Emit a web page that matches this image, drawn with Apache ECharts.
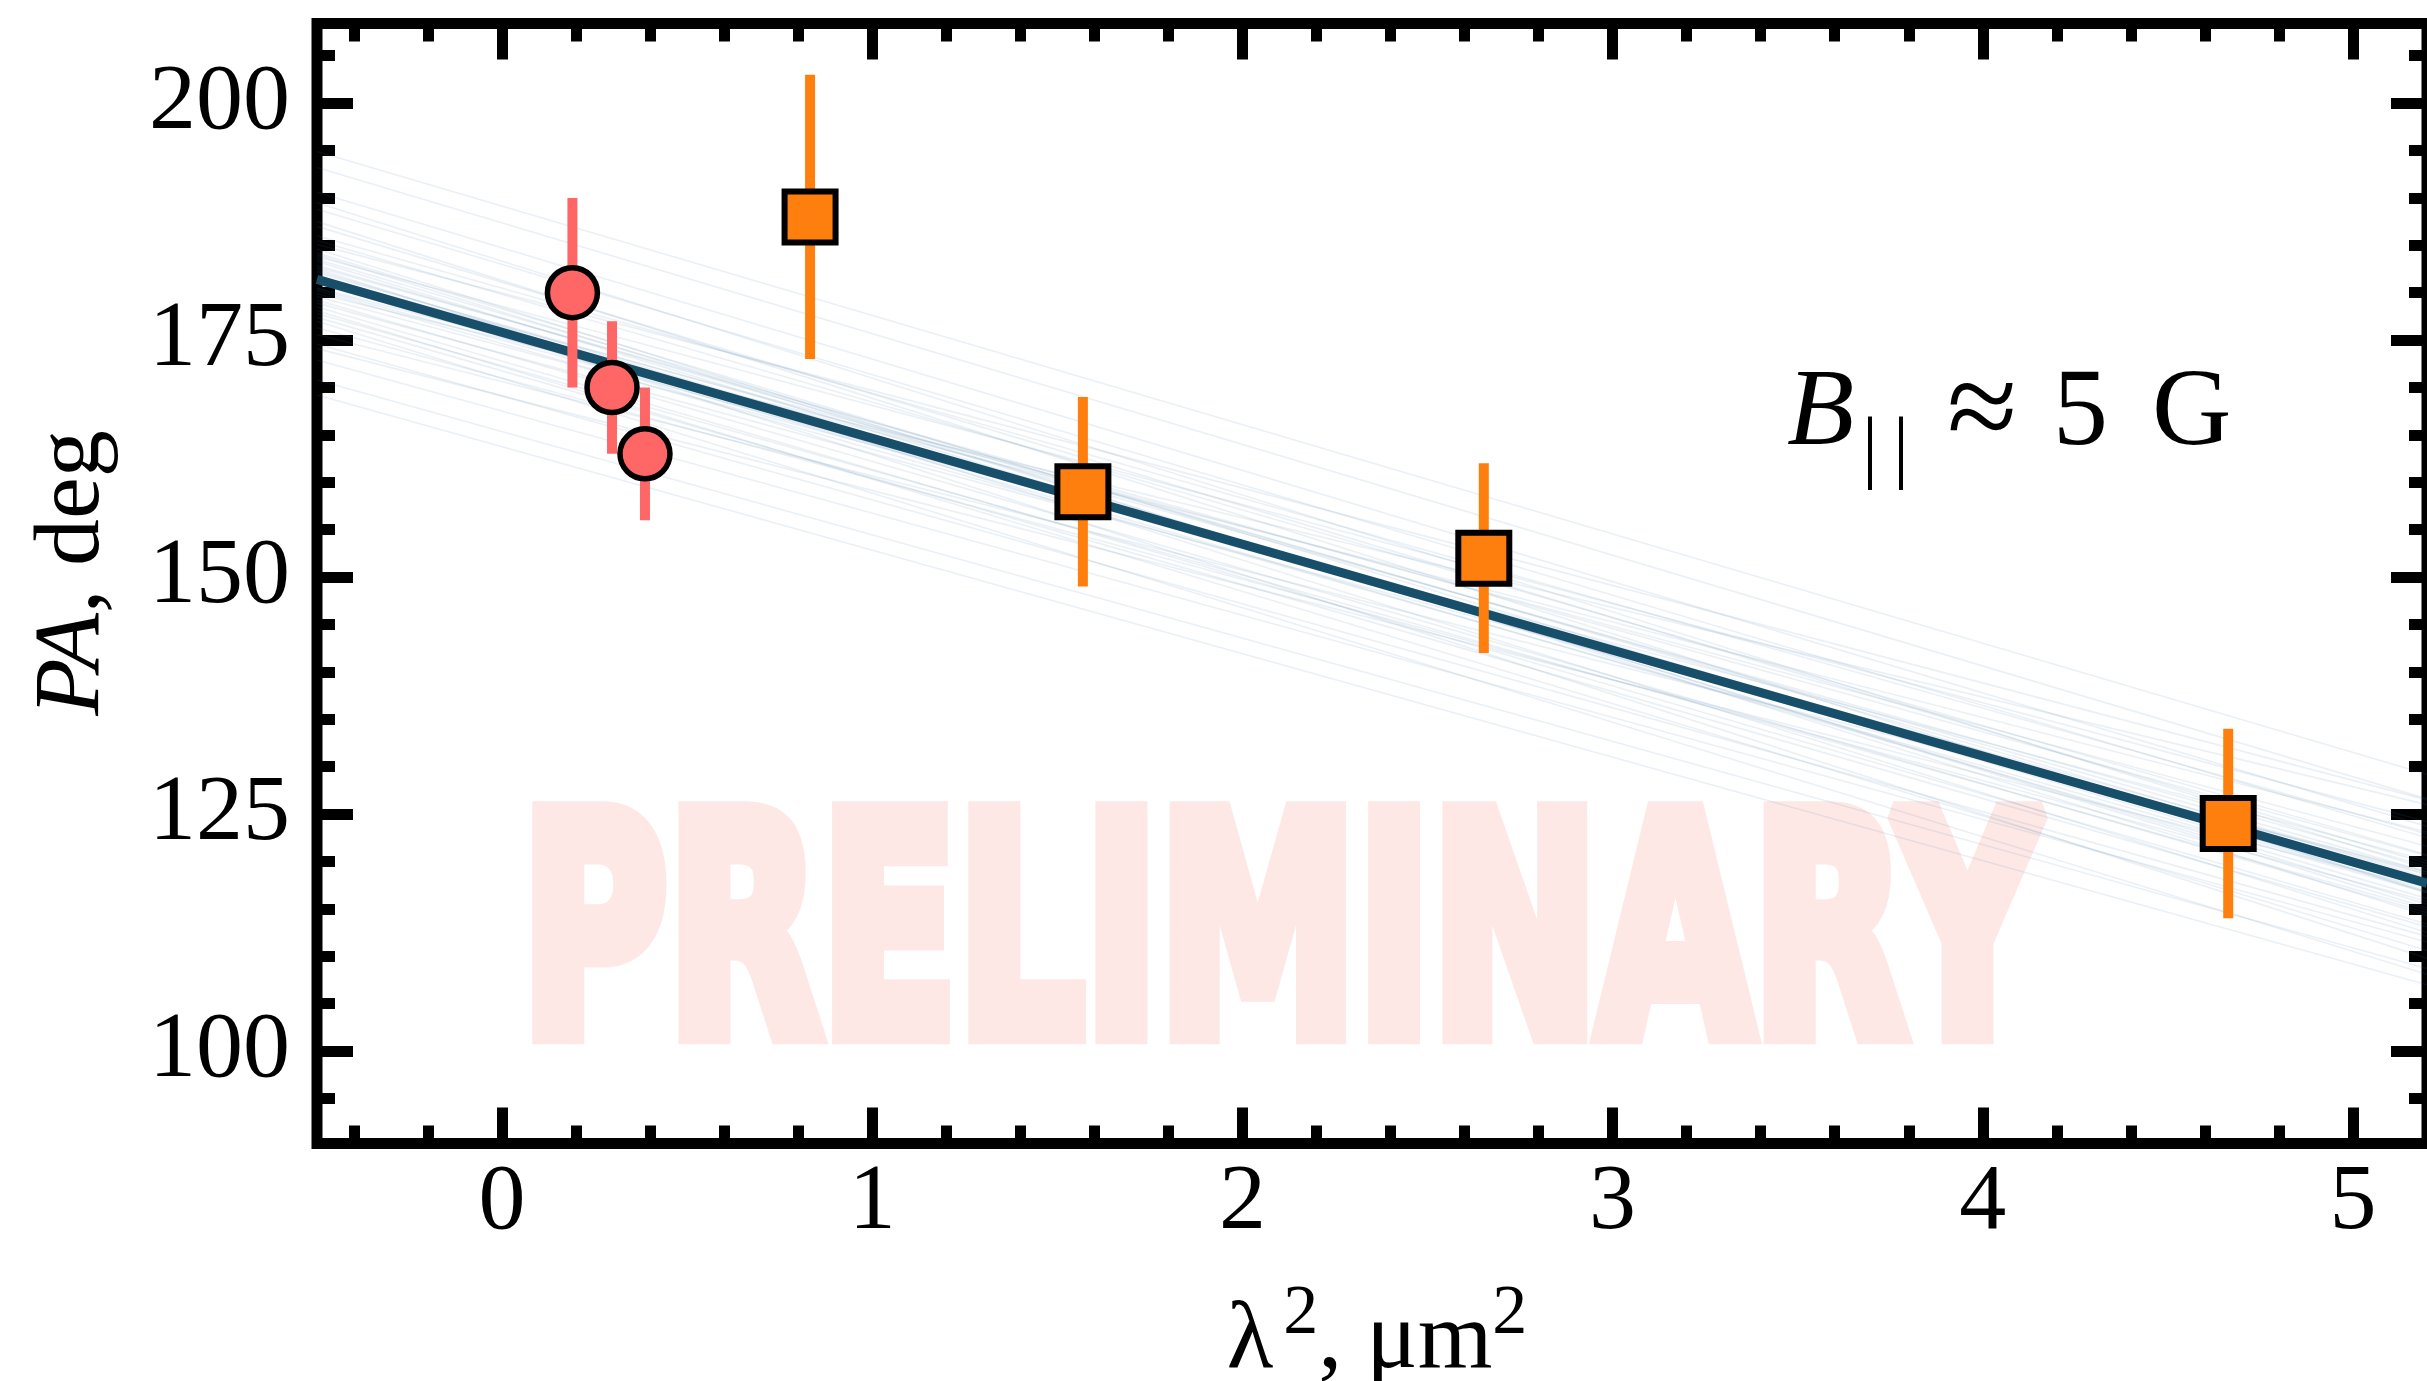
<!DOCTYPE html>
<html>
<head>
<meta charset="utf-8">
<script src="https://cdn.jsdelivr.net/npm/echarts@6/dist/echarts.min.js"></script>
<style>
html,body{margin:0;padding:0;background:#fff;}
#chart{width:2427px;height:1381px;}
</style>
</head>
<body>
<div id="chart"></div>
<script>
// ---- data ----
const xMin = -0.5, xMax = 5.2;
const yMin = 90.25, yMax = 208.4;
const xMajorTicks = [0, 1, 2, 3, 4, 5];
const xMinorTicks = [-0.4, -0.2, 0.2, 0.4, 0.6, 0.8, 1.2, 1.4, 1.6, 1.8, 2.2, 2.4, 2.6, 2.8, 3.2, 3.4, 3.6, 3.8, 4.2, 4.4, 4.6, 4.8, 5.2];
const yMajorTicks = [100, 125, 150, 175, 200];
const yMinorTicks = [95, 105, 110, 115, 120, 130, 135, 140, 145, 155, 160, 165, 170, 180, 185, 190, 195, 205];

// red circles (short wavelengths)
const circX = [0.19, 0.297, 0.386];
const circPA = [180, 170, 163];
const circErr = [10, 7, 7];

// orange squares
const sqX = [0.832, 1.569, 2.652, 4.663];
const sqPA = [188, 159, 152, 124];
const sqErr = [15, 10, 10, 10];

// best-fit line (end points at axis limits)
const fitX = [-0.5, 5.2];
const fitPA = [181.4, 117.7];

// posterior sample lines: PA at x = -0.5 and at x = 5.2
const fanStartPA = [181.4, 182.9, 180.2, 184.2, 178.9, 182.1, 181.0, 185.5, 177.8, 183.3, 179.6, 187.0, 176.3, 181.7, 184.6, 178.5, 188.8, 174.6, 182.5, 180.5, 183.8, 178.1, 190.6, 172.9, 181.9, 179.9, 185.1, 177.0, 193.2, 170.8, 183.5, 181.2, 182.7, 179.2, 187.5, 175.6, 182.3, 186.0, 177.4, 194.9, 169.2, 184.0, 180.4, 189.5, 174.1];
const fanEndPA = [117.7, 118.9, 116.7, 116.9, 118.6, 119.5, 116.1, 120.7, 114.9, 115.5, 120.1, 119.8, 115.8, 121.6, 114.3, 113.4, 122.5, 112.1, 112.5, 123.1, 124.2, 110.6, 123.7, 111.5, 109.8, 126.0, 126.5, 108.1, 126.6, 108.7, 118.3, 117.3, 120.6, 114.6, 116.7, 118.9, 116.8, 122.9, 113.1, 129.2, 107.0, 115.1, 118.7, 119.2, 117.2];

// ---- chart ----
const chart = echarts.init(document.getElementById('chart'), null, {renderer: 'canvas'});
const serif = '"Liberation Serif", "Times New Roman", serif';
const tickW = 11;

function xAxisDef(pos, ticks, len, labels) {
  return {
    type: 'value', position: pos, min: xMin, max: xMax,
    axisLine: {show: false, onZero: false},
    splitLine: {show: false},
    axisTick: {show: true, inside: true, length: len, customValues: ticks, lineStyle: {color: '#000', width: tickW}},
    axisLabel: labels ? {show: true, customValues: ticks, fontSize: 94, fontFamily: serif, color: '#000', margin: 13} : {show: false}
  };
}
function yAxisDef(pos, ticks, len, labels) {
  return {
    type: 'value', position: pos, min: yMin, max: yMax,
    axisLine: {show: false, onZero: false},
    splitLine: {show: false},
    axisTick: {show: true, inside: true, length: len, customValues: ticks, lineStyle: {color: '#000', width: tickW}},
    axisLabel: labels ? {show: true, customValues: ticks, fontSize: 94, fontFamily: serif, color: '#000', margin: 27} : {show: false}
  };
}

const fanSeries = fanStartPA.map((s, i) => ({
  type: 'line', xAxisIndex: 0, yAxisIndex: 0,
  data: [[fitX[0], s], [fitX[1], fanEndPA[i]]],
  symbol: 'none', silent: true, z: 1,
  lineStyle: {color: '#3f7aa0', width: 1.6, opacity: 0.11},
  animation: false
}));

function errBarSeries(xs, ys, es, color) {
  return {
    type: 'custom', xAxisIndex: 0, yAxisIndex: 0, z: 5,
    data: xs.map((x, i) => [x, ys[i], es[i]]),
    encode: {x: 0, y: 1},
    renderItem: function (params, api) {
      const x = api.value(0), y = api.value(1), e = api.value(2);
      const p1 = api.coord([x, y - e]);
      const p2 = api.coord([x, y + e]);
      return {type: 'line', shape: {x1: p1[0], y1: p1[1], x2: p2[0], y2: p2[1]},
              style: {stroke: color, lineWidth: 10}};
    },
    animation: false
  };
}

// watermark scale from text metrics
const wmFont = 303, wmStroke = 22;
const mctx = document.createElement('canvas').getContext('2d');
mctx.font = 'bold ' + wmFont + 'px "DejaVu Sans"';
const wmW = mctx.measureText('PRELIMINARY').width + wmStroke;
const wmScale = 1533 / wmW;

const option = {
  backgroundColor: '#ffffff',
  animation: false,
  grid: {left: 317, top: 23.5, width: 2123, height: 1120, show: true, borderWidth: 11, borderColor: '#000', backgroundColor: 'transparent', containLabel: false},
  xAxis: [
    xAxisDef('bottom', xMajorTicks, 36, true),
    xAxisDef('bottom', xMinorTicks, 18, false),
    xAxisDef('top', xMajorTicks, 36, false),
    xAxisDef('top', xMinorTicks, 18, false)
  ],
  yAxis: [
    yAxisDef('left', yMajorTicks, 36, true),
    yAxisDef('left', yMinorTicks, 18, false),
    yAxisDef('right', yMajorTicks, 36, false),
    yAxisDef('right', yMinorTicks, 18, false)
  ],
  graphic: [
    {type: 'text', x: 514 + (wmStroke / 2) * wmScale, y: 1106, z: -10, scaleX: wmScale,
     style: {text: 'PRELIMINARY', font: 'bold ' + wmFont + 'px "DejaVu Sans"', fill: '#fde8e6', stroke: '#fde8e6', lineWidth: wmStroke, lineJoin: 'miter', align: 'left', verticalAlign: 'bottom'}},
    // annotation B_|| ≈ 5 G
    {type: 'text', x: 1787, y: 415, z: 100,
     style: {text: 'B', font: 'italic 110px ' + serif, fill: '#000', align: 'left', verticalAlign: 'middle'}},
    {type: 'text', x: 1862, y: 452, z: 100,
     style: {text: '|', font: '80px ' + serif, fill: '#000', align: 'left', verticalAlign: 'middle'}},
    {type: 'text', x: 1893, y: 452, z: 100,
     style: {text: '|', font: '80px ' + serif, fill: '#000', align: 'left', verticalAlign: 'middle'}},
    {type: 'text', x: 1982, y: 415, z: 100,
     style: {text: '≈', font: '128px ' + serif, fill: '#000', align: 'center', verticalAlign: 'middle'}},
    {type: 'text', x: 2053, y: 415, z: 100,
     style: {text: '5', font: '110px ' + serif, fill: '#000', align: 'left', verticalAlign: 'middle'}},
    {type: 'text', x: 2152, y: 415, z: 100,
     style: {text: 'G', font: '110px ' + serif, fill: '#000', align: 'left', verticalAlign: 'middle'}},
    // y axis title
    {type: 'text', x: 73, y: 573, rotation: Math.PI / 2, z: 100,
     style: {text: '{i|PA}{r|, deg}', align: 'center', verticalAlign: 'middle',
       rich: {i: {fontSize: 94, fontStyle: 'italic', fontFamily: serif, fill: '#000', color: '#000'},
              r: {fontSize: 94, fontFamily: serif, fill: '#000', color: '#000'}}}},
    // x axis title
    {type: 'text', x: 1377, y: 1335, z: 100,
     style: {text: '{n|λ}{s1|2}{n|, μm}{s|2}', align: 'center', verticalAlign: 'middle',
       rich: {n: {fontSize: 96, fontFamily: serif, fill: '#000', color: '#000', lineHeight: 110, verticalAlign: 'bottom'},
              s1: {fontSize: 70, fontFamily: serif, fill: '#000', color: '#000', verticalAlign: 'top', lineHeight: 70, padding: [0, 0, 0, 10]},
              s: {fontSize: 70, fontFamily: serif, fill: '#000', color: '#000', verticalAlign: 'top', lineHeight: 70}}}}
  ],
  series: fanSeries.concat([
    {type: 'line', xAxisIndex: 0, yAxisIndex: 0, data: fitX.map((x, i) => [x, fitPA[i]]),
     symbol: 'none', z: 3, lineStyle: {color: '#174f6a', width: 9}, silent: true},
    errBarSeries(circX, circPA, circErr, '#ff6666'),
    errBarSeries(sqX, sqPA, sqErr, '#ff7f0e'),
    {type: 'scatter', xAxisIndex: 0, yAxisIndex: 0, z: 6, symbol: 'circle', symbolSize: 50,
     data: circX.map((x, i) => [x, circPA[i]]),
     itemStyle: {color: '#ff6666', borderColor: '#000', borderWidth: 5.5, opacity: 1}},
    {type: 'scatter', xAxisIndex: 0, yAxisIndex: 0, z: 6, symbol: 'rect', symbolSize: 51,
     data: sqX.map((x, i) => [x, sqPA[i]]),
     itemStyle: {color: '#ff7f0e', borderColor: '#000', borderWidth: 6, opacity: 1}}
  ])
};
chart.setOption(option);
</script>
</body>
</html>
